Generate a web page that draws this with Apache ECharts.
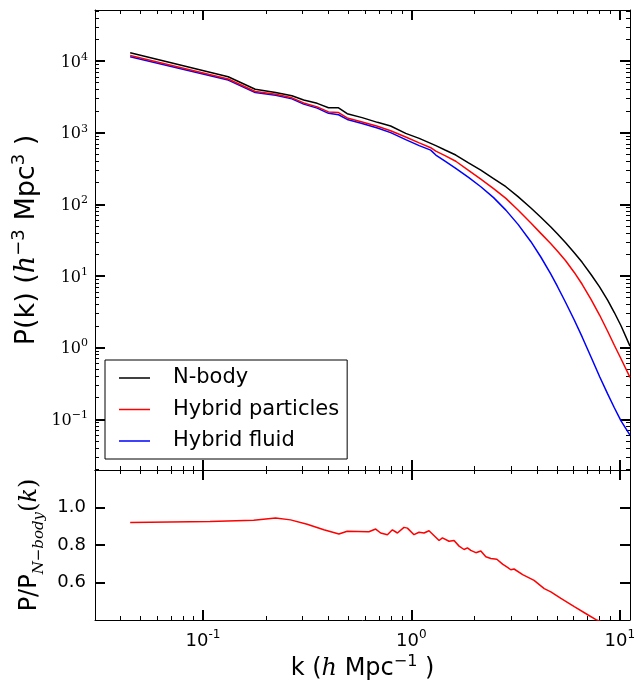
<!DOCTYPE html>
<html>
<head>
<meta charset="utf-8">
<script src="https://cdn.jsdelivr.net/npm/echarts@6/dist/echarts.min.js"></script>
<style>html,body{margin:0;padding:0;background:#fff;}#c{width:641px;height:682px;}</style>
</head>
<body>
<div id="c"></div>
<script>
// ---------------- data ----------------
const seriesNames = ['N-body', 'Hybrid particles', 'Hybrid fluid'];
const kTop = [0.0447, 0.132, 0.178, 0.223, 0.267, 0.304, 0.353, 0.40, 0.447, 0.492, 0.58, 0.687, 0.795, 0.939, 1.09, 1.238, 1.31, 1.45, 1.633, 1.88, 2.154, 2.48, 2.841, 3.25, 3.747, 4.18, 4.67, 5.03, 5.5, 6.05, 6.6, 7.28, 8.0, 8.76, 9.42, 10.14, 11.2];
const pNbody = [13000, 6040, 4030, 3640, 3275, 2850, 2565, 2230, 2225, 1840, 1620, 1393, 1237, 977, 832, 709, 658, 572, 487, 380, 300, 229, 176, 128, 89, 66, 48.2, 38.5, 29.1, 21.1, 15.5, 10.5, 7.03, 4.55, 3.09, 2.02, 1.05];
const pHybridParticles = [11960, 5600, 3760, 3440, 3060, 2600, 2290, 1950, 1910, 1605, 1410, 1227, 1064, 871, 720, 617, 553, 478, 399, 298, 225, 166, 121, 83.5, 55, 39.3, 28.2, 22.2, 16.3, 11.2, 7.66, 4.73, 2.85, 1.68, 1.08, 0.70, 0.385];
const pHybridFluid = [11500, 5420, 3640, 3320, 2960, 2500, 2200, 1860, 1780, 1530, 1340, 1160, 1000, 800, 660, 571, 487, 400, 317, 238, 176, 124, 83, 52.5, 30.1, 18.4, 10.6, 7.08, 4.26, 2.43, 1.41, 0.74, 0.396, 0.224, 0.145, 0.095, 0.06];
const kRatio = [0.0447, 0.108, 0.175, 0.223, 0.263, 0.316, 0.380, 0.449, 0.492, 0.625, 0.674, 0.712, 0.726, 0.767, 0.811, 0.857, 0.921, 0.957, 1.029, 1.088, 1.150, 1.172, 1.215, 1.358, 1.409, 1.516, 1.602, 1.694, 1.790, 1.858, 1.928, 2.038, 2.154, 2.276, 2.406, 2.571, 2.739, 2.894, 3.00, 3.11, 3.42, 3.88, 4.34, 4.67, 5.22, 6.05, 7.02, 7.69, 11.2];
const ratioParticles = [0.920, 0.925, 0.932, 0.944, 0.934, 0.911, 0.881, 0.859, 0.873, 0.871, 0.885, 0.864, 0.855, 0.855, 0.881, 0.864, 0.894, 0.890, 0.855, 0.868, 0.864, 0.855, 0.876, 0.824, 0.838, 0.820, 0.824, 0.794, 0.776, 0.785, 0.771, 0.759, 0.768, 0.737, 0.728, 0.724, 0.698, 0.681, 0.668, 0.672, 0.642, 0.611, 0.567, 0.550, 0.515, 0.471, 0.428, 0.402, 0.33];
const xMajorTicks = [0.1, 1, 10];
const yMajorTicksTop = [0.1, 1, 10, 100, 1000, 10000];
const ratioTicks = [0.6, 0.8, 1.0];

// ---------------- axis config ----------------
const X_MIN = 0.0303, X_MAX = 11.2;
const Y_MIN = 0.0196, Y_MAX = 51500;
function minorLog(lo, hi) {
  const out = [];
  for (let e = -3; e <= 5; e++) for (let m = 2; m <= 9; m++) {
    const v = +(m * Math.pow(10, e)).toPrecision(6);
    if (v >= lo && v <= hi) out.push(v);
  }
  return out;
}
const xMinor = minorLog(X_MIN, X_MAX);
const yMinor = minorLog(Y_MIN, Y_MAX);

const SANS = 'DejaVu Sans';
const SERIF = 'DejaVu Serif';

function xAx(grid, pos, major, labels) {
  return {
    type: 'log', gridIndex: grid, position: pos, min: X_MIN, max: X_MAX, logBase: 10,
    axisLine: {show: major, onZero: false, lineStyle: {color: '#000', width: 1}},
    axisTick: {show: true, inside: true, length: major ? 10 : 4,
      lineStyle: {color: '#000', width: major ? 2 : 1},
      customValues: major ? xMajorTicks : xMinor},
    axisLabel: {show: !!labels, customValues: xMajorTicks, margin: 9,
      formatter: v => '{b|10}{s|' + Math.round(Math.log10(v)) + '}',
      rich: {b: {fontSize: 18, fontFamily: SANS, color: '#000', verticalAlign: 'bottom'},
             s: {fontSize: 12, fontFamily: SANS, color: '#000', verticalAlign: 'bottom', padding: [0, 0, 9, 0]}}},
    splitLine: {show: false}
  };
}
const xAxes = [
  xAx(0, 'bottom', true, false), xAx(0, 'top', true, false),
  xAx(0, 'bottom', false, false), xAx(0, 'top', false, false),
  xAx(1, 'bottom', true, true), xAx(1, 'top', true, false),
  xAx(1, 'bottom', false, false), xAx(1, 'top', false, false)
];
xAxes[4].name = '{n|k (}{i|h}{n| Mpc}{s|−1}{n| )}';
xAxes[4].nameLocation = 'middle';
xAxes[4].nameGap = 34;
xAxes[4].nameTextStyle = {rich: {
  n: {fontSize: 24, fontFamily: SANS, color: '#000', verticalAlign: 'bottom'},
  i: {fontSize: 24, fontFamily: SERIF, fontStyle: 'italic', color: '#000', verticalAlign: 'bottom'},
  s: {fontSize: 16, fontFamily: SANS, color: '#000', verticalAlign: 'bottom', padding: [0, 0, 11, 0]}}};

function yLogAx(pos, major, labels) {
  return {
    type: 'log', gridIndex: 0, position: pos, min: Y_MIN, max: Y_MAX, logBase: 10,
    axisLine: {show: major, onZero: false, lineStyle: {color: '#000', width: 1}},
    axisTick: {show: true, inside: true, length: major ? 10 : 4,
      lineStyle: {color: '#000', width: major ? 2 : 1},
      customValues: major ? yMajorTicksTop : yMinor},
    axisLabel: {show: !!labels, customValues: yMajorTicksTop, margin: 7,
      formatter: v => '{b|10}{s|' + String(Math.round(Math.log10(v))).replace('-', '−') + '}',
      rich: {b: {fontSize: 16, fontFamily: SERIF, color: '#000', verticalAlign: 'bottom'},
             s: {fontSize: 11, fontFamily: SERIF, color: '#000', verticalAlign: 'bottom', padding: [0, 0, 8, 0]}}},
    splitLine: {show: false}
  };
}
function yRatioAx(pos, labels) {
  return {
    type: 'value', gridIndex: 1, position: pos, min: 0.4, max: 1.2, interval: 0.2,
    axisLine: {show: true, onZero: false, lineStyle: {color: '#000', width: 1}},
    axisTick: {show: true, inside: true, length: 10, lineStyle: {color: '#000', width: 2}, customValues: ratioTicks},
    axisLabel: {show: labels, customValues: ratioTicks, margin: 9, fontSize: 18, fontFamily: SANS, color: '#000',
      formatter: v => v.toFixed(1)},
    splitLine: {show: false}
  };
}
const yAxes = [yLogAx('left', true, true), yLogAx('right', true, false), yLogAx('left', false, false), yLogAx('right', false, false),
  yRatioAx('left', true), yRatioAx('right', false)];
yAxes[0].name = '{n|P(k) (}{i|h}{s|−3}{n| Mpc}{s|3}{n| )}';
yAxes[0].nameLocation = 'middle';
yAxes[0].nameRotate = 90;
yAxes[0].nameGap = 32;
yAxes[0].nameTextStyle = {rich: {
  n: {fontSize: 27, fontFamily: SANS, color: '#000', verticalAlign: 'bottom'},
  i: {fontSize: 27, fontFamily: SERIF, fontStyle: 'italic', color: '#000', verticalAlign: 'bottom'},
  s: {fontSize: 18, fontFamily: SANS, color: '#000', verticalAlign: 'bottom', padding: [0, 0, 12, 0]}}};
yAxes[4].name = '{n|P/P}{sub|N−body}{p|(}{i|k}{p|)}';
yAxes[4].nameLocation = 'middle';
yAxes[4].nameRotate = 90;
yAxes[4].nameGap = 35;
yAxes[4].nameTextStyle = {rich: {
  n: {fontSize: 24, fontFamily: SANS, color: '#000', verticalAlign: 'bottom', padding: [0, 0, 5, 0]},
  sub: {fontSize: 15, fontFamily: SERIF, fontStyle: 'italic', color: '#000', verticalAlign: 'bottom'},
  p: {fontSize: 24, fontFamily: SERIF, color: '#000', verticalAlign: 'bottom', padding: [0, 0, 5, 0]},
  i: {fontSize: 24, fontFamily: SERIF, fontStyle: 'italic', color: '#000', verticalAlign: 'bottom', padding: [0, 0, 5, 0]}}};

const colors = ['#000000', '#ff0000', '#0000ff'];
const topData = [pNbody, pHybridParticles, pHybridFluid];
const series = topData.map((arr, i) => ({
  name: seriesNames[i], type: 'line', xAxisIndex: 0, yAxisIndex: 0,
  data: kTop.map((k, j) => [k, arr[j]]), symbol: 'none', clip: true,
  lineStyle: {color: colors[i], width: 1.5}, itemStyle: {color: colors[i]}, z: 3 - i
}));
series.push({
  name: 'ratio', type: 'line', xAxisIndex: 4, yAxisIndex: 4,
  data: kRatio.map((k, j) => [k, ratioParticles[j]]), symbol: 'none', clip: true,
  lineStyle: {color: '#ff0000', width: 1.5}, itemStyle: {color: '#ff0000'}
});

const option = {
  animation: false,
  backgroundColor: '#fff',
  grid: [
    {left: 95, top: 10, width: 535, height: 460, containLabel: false},
    {left: 95, top: 470, width: 535, height: 153, containLabel: false}
  ],
  legend: {
    show: true,
    data: seriesNames.slice(), orient: 'vertical', left: 105, top: 360,
    icon: 'rect', itemWidth: 31, itemHeight: 1.5, itemGap: 9.5,
    padding: [7, 8, 7, 14],
    borderColor: '#000', borderWidth: 1, borderRadius: 0, backgroundColor: '#fff',
    textStyle: {fontSize: 21, fontFamily: SANS, color: '#000', lineHeight: 22, padding: [0, 0, 0, 18]}
  },
  xAxis: xAxes,
  yAxis: yAxes,
  series: series
};
const chart = echarts.init(document.getElementById('c'), null, {renderer: 'canvas'});
chart.setOption(option);
</script>
</body>
</html>
